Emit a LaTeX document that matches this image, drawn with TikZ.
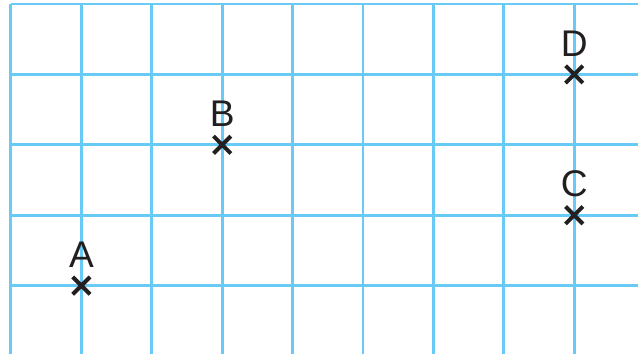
\documentclass[tikz,border=0pt]{standalone}
\usepackage{fontspec}
\setmainfont{Liberation Sans}
\usetikzlibrary{shapes.misc,positioning}
\definecolor{GridBlue}{RGB}{105, 202, 245}
\definecolor{MarkBlack}{RGB}{35, 31, 32}
\tikzset{
  pointmark/.style={cross out, draw=MarkBlack, line width=1.6pt, minimum size=0.19cm, inner sep=0pt},
  pointname/.style={font=\fontsize{15}{15}\selectfont, text=MarkBlack, inner sep=0pt}
}
\begin{document}
\begin{tikzpicture}
    \useasboundingbox (-0.156,-0.966) rectangle (8.906,4.057);
    \fill[white] (-0.156,-0.966) rectangle (8.906,4.057);

    % squared paper
    \foreach \x in {0,...,8} {
      \draw[GridBlue, line width=1.2pt] (\x,-1) -- (\x,4);
    }
    \foreach \y in {0,...,4} {
      \draw[GridBlue, line width=1.2pt] (0,\y) -- (9,\y);
    }

    % plotted points
    \node[pointmark] (A) at (1,0) {};
    \node[pointmark] (B) at (3,2) {};
    \node[pointmark] (C) at (8,1) {};
    \node[pointmark] (D) at (8,3) {};

    \node[pointname, above=0.13cm of A] (labA) {A};
    \node[pointname, above=0.13cm of B] (labB) {B};
    \node[pointname, above=0.13cm of C] (labC) {C};
    \node[pointname, above=0.13cm of D] (labD) {D};
  \end{tikzpicture}
\end{document}
